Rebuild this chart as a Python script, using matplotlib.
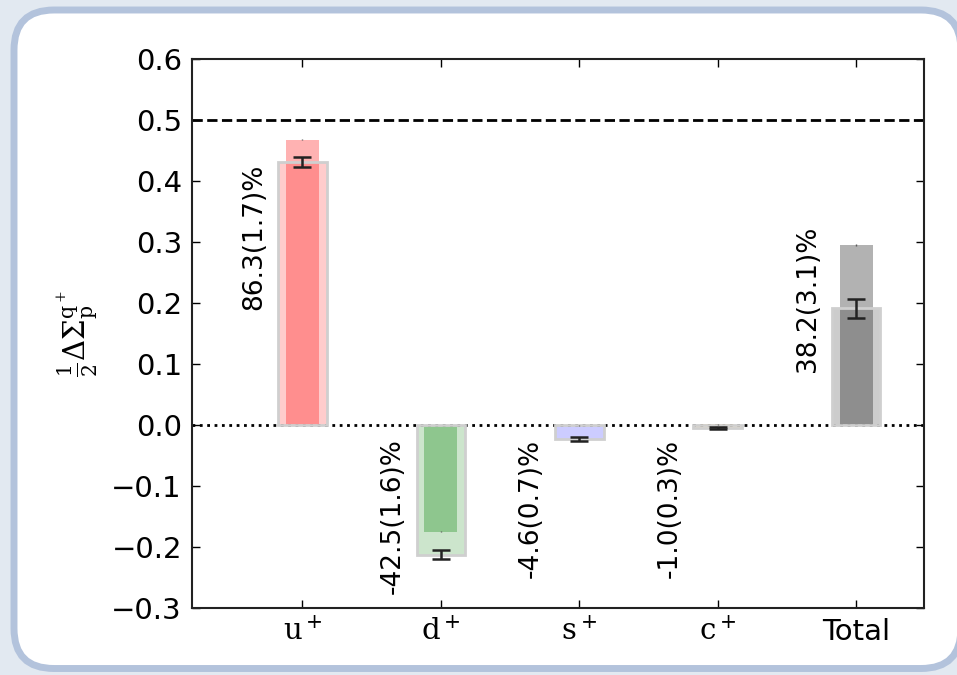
import numpy as np
import matplotlib
matplotlib.use("Agg")
import matplotlib.pyplot as plt
from matplotlib.patches import FancyBboxPatch
from matplotlib.transforms import IdentityTransform
from matplotlib.colors import to_rgba

plt.rcParams['mathtext.fontset'] = 'dejavuserif'
plt.rcParams['font.family'] = 'DejaVu Sans'

#-----DATA--------------------------------------------------------
flavours = [r'$\mathrm{u}^+$', r'$\mathrm{d}^+$', r'$\mathrm{s}^+$', r'$\mathrm{c}^+$', 'Total']
colours = ['red', 'green', 'blue', 'orange', 'black']

# connected (narrow) contribution
conn = [0.468, -0.175, -0.001, 0.001, 0.295]
conn_err = [0.001, 0.001, 0.001, 0.001, 0.001]

# full contribution (wide bars)
full = [0.4315, -0.2125, -0.023, -0.005, 0.191]
full_err = [0.0085, 0.008, 0.0035, 0.0015, 0.0155]

labels = ['86.3(1.7)%', '-42.5(1.6)%', '-4.6(0.7)%', '-1.0(0.3)%', '38.2(3.1)%']
label_top = [0.429, -0.022, -0.022, -0.022, 0.327]
#-----/DATA-------------------------------------------------------

fig = plt.figure(figsize=(9.57, 6.75), dpi=100)
fig.patch.set_facecolor('#e2e9f1')

# rounded white panel behind the plot (pixel coords, origin bottom-left)
r = 40
x0, x1 = 14, 961
y0, y1 = 6.5, 665
panel = FancyBboxPatch((x0 + r, y0 + r), x1 - x0 - 2 * r, y1 - y0 - 2 * r,
                       boxstyle="round,pad=%d,rounding_size=%d" % (r, r),
                       transform=IdentityTransform(), facecolor='white',
                       edgecolor='#b3c3dc', linewidth=5, zorder=-5)
fig.patches.append(panel)

ax = fig.add_axes([0.2003, 0.0993, 0.7652, 0.8133])
ax.set_facecolor('none')
ax.set_zorder(2)

x = np.arange(len(flavours))

for i in range(len(x)):
    ax.bar(x[i], conn[i], width=0.24, color=to_rgba(colours[i], 0.3),
           edgecolor='none', zorder=2)
    ax.bar(x[i], full[i], width=0.35, color=to_rgba(colours[i], 0.2),
           edgecolor='#cfcfcf', linewidth=2, zorder=3)

ax.errorbar(x, conn, yerr=conn_err, fmt='none', ecolor='0.35', lw=1, zorder=4)
ax.errorbar(x, full, yerr=full_err, fmt='none', ecolor='#222222', lw=1.8,
            capsize=6.5, capthick=1.8, zorder=5)

for i in range(len(x)):
    ax.text(x[i] - 0.35, label_top[i], labels[i], rotation=90, fontsize=19,
            ha='center', va='top', zorder=6)

ax.axhline(0.5, color='k', ls='--', lw=2, zorder=1)
ax.axhline(0.0, color='k', ls=':', lw=2, zorder=1)

ax.set_xlim(-0.8, 4.49)
ax.set_ylim(-0.3, 0.6)
ax.set_yticks(np.arange(-0.3, 0.61, 0.1))
ax.set_xticks(x)
ax.set_xticklabels(flavours)

ax.tick_params(direction='in', top=True, right=True, length=6, width=1,
               labelsize=21, pad=7)
for sp in ax.spines.values():
    sp.set_linewidth(1.5)
    sp.set_color('#222222')

ax.set_ylabel(r'$\frac{1}{2}\Delta\Sigma_{\mathrm{p}}^{\mathrm{q}^+}$', fontsize=21)
ax.yaxis.set_label_coords(-0.125, 0.5)

fig.savefig('out.png', dpi=100, facecolor=fig.get_facecolor())
